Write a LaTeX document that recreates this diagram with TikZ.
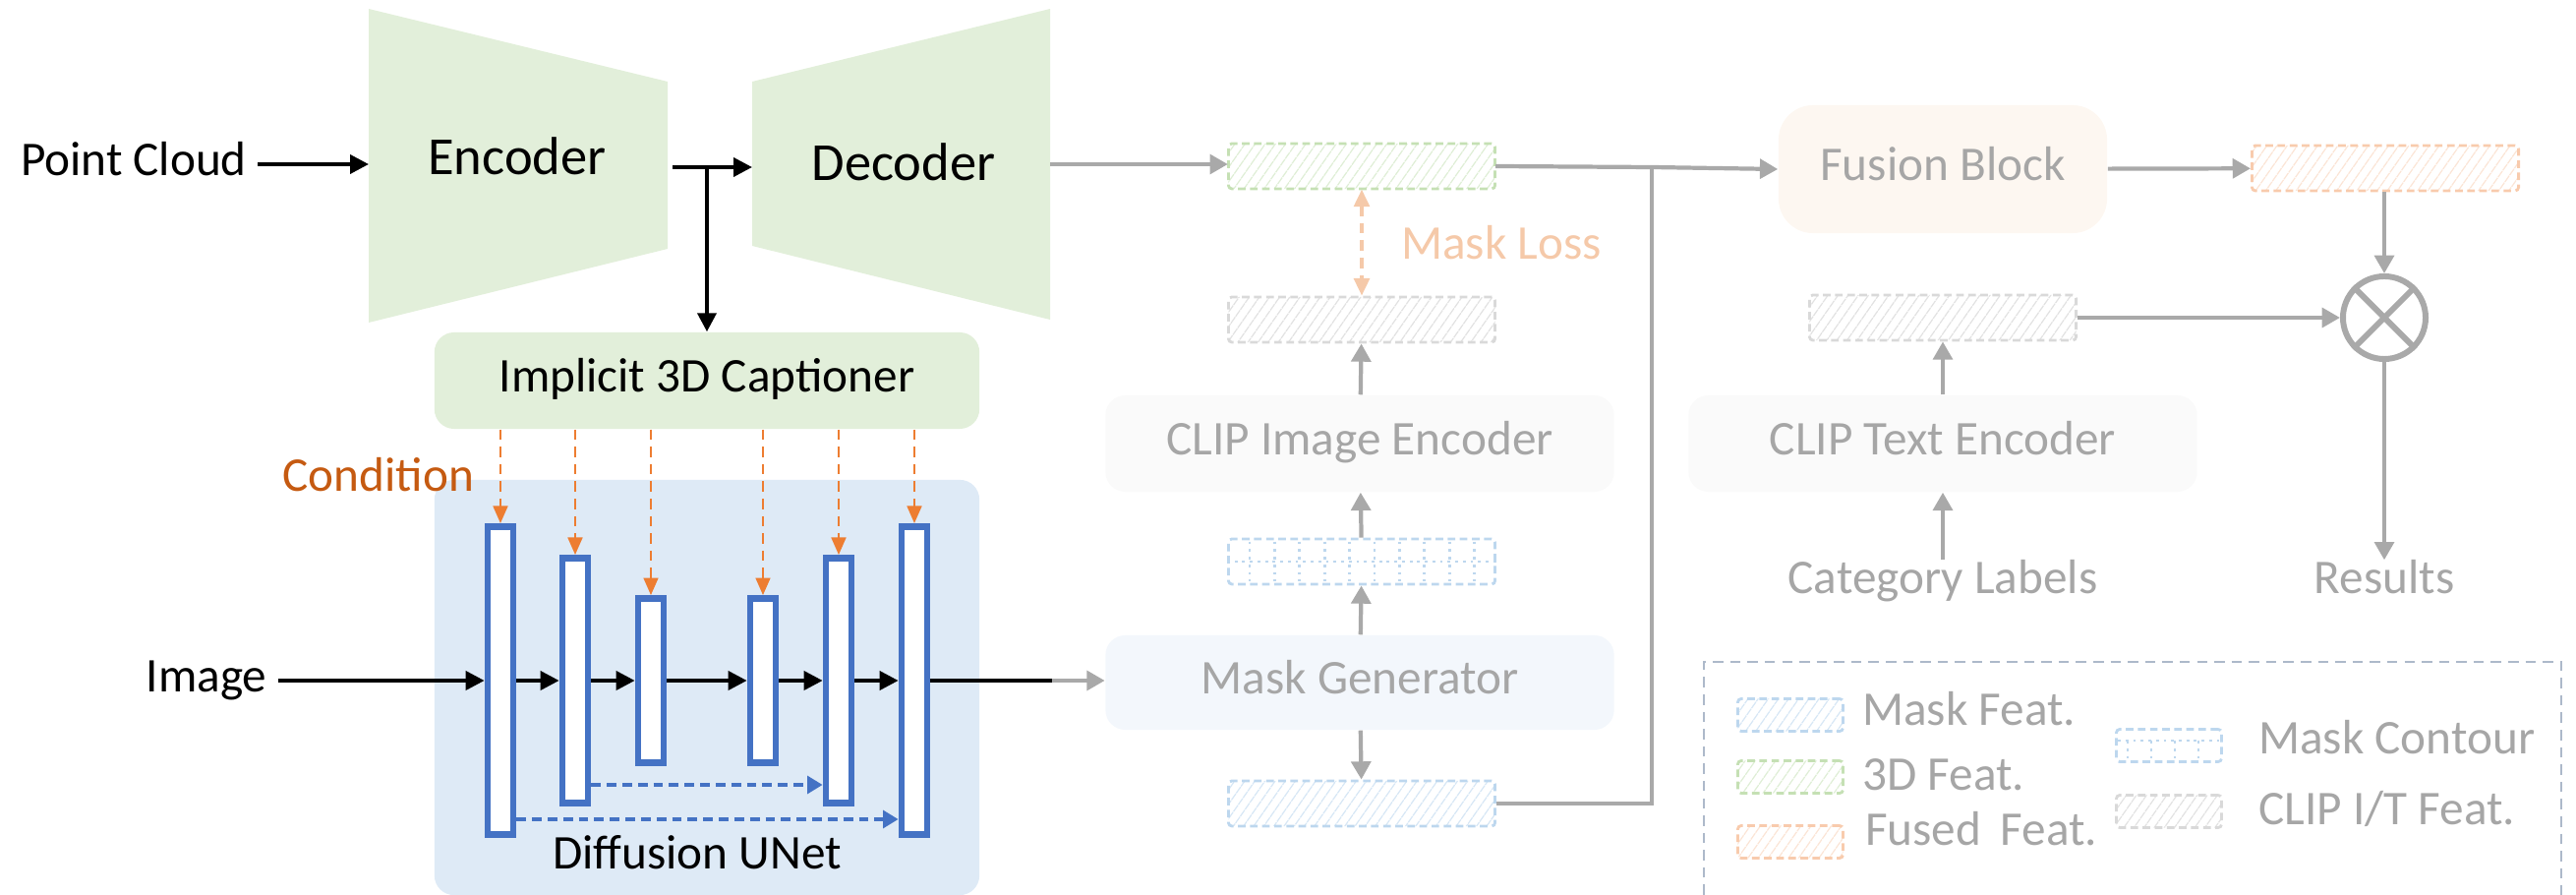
\documentclass[tikz,border=0pt]{standalone}
\usepackage{fontspec}
\setmainfont{Carlito}
\usetikzlibrary{arrows.meta,patterns.meta,calc}

\definecolor{encgreen}{HTML}{E2EFDA}
\definecolor{unetbg}{HTML}{DEEAF6}
\definecolor{barblue}{HTML}{4472C4}
\definecolor{condline}{HTML}{ED7D31}
\definecolor{condtext}{HTML}{C55A11}
\definecolor{arrgray}{HTML}{A9A9A9}
\definecolor{fadegray}{HTML}{A6A6A6}
\definecolor{lossorange}{HTML}{F5C9A9}
\definecolor{clipfill}{HTML}{FAFAFA}
\definecolor{maskfill}{HTML}{F3F7FC}
\definecolor{fusefill}{HTML}{FDF7F1}
\definecolor{maskblue}{HTML}{BDD7EE}
\definecolor{greenline}{HTML}{C5E0B4}
\definecolor{fuseline}{HTML}{F8CBAD}
\definecolor{clipline}{HTML}{D9D9D9}
\definecolor{legline}{HTML}{ADB9CA}

\tikzset{
  lbl/.style={font=\fontsize{14}{17}\selectfont, inner sep=3pt, text height=0.65em, text depth=0pt},
  big/.style={font=\fontsize{15.5}{18}\selectfont},
  faded/.style={text=fadegray},
  blockbox/.style={lbl, rounded corners=0.2cm, inner sep=0pt},
  arr/.style={line width=1.1pt, -{Triangle[length=5.4pt,width=5.4pt]}},
  garr/.style={draw=arrgray, line width=1.2pt, -{Triangle[length=5.2pt,width=5.6pt]}},
  gline/.style={draw=arrgray, line width=1.2pt},
  condarr/.style={draw=condline, line width=0.7pt, dash pattern=on 3pt off 2pt, -{Triangle[length=5pt,width=4.2pt]}},
  lossarr/.style={draw=lossorange, line width=1pt, dash pattern=on 3pt off 2pt,
    {Triangle[length=5pt,width=4.5pt]}-{Triangle[length=5pt,width=4.5pt]}},
  skiparr/.style={draw=barblue, line width=1.2pt, dash pattern=on 2.8pt off 1.7pt, -{Triangle[length=4.4pt,width=5pt]}},
  unetbar/.style={draw=barblue, fill=white, line width=1.9pt, minimum width=0.26cm, inner sep=0pt},
  feat/.style={line width=0.8pt, dash pattern=on 2.2pt off 1.3pt, rounded corners=1pt, inner sep=0pt,
    minimum width=2.71cm, minimum height=0.46cm},
  hatch/.style={pattern={Lines[angle=55,distance=2.4pt,line width=0.35pt]}, pattern color=#1},
  featmask/.style={feat, draw=maskblue, hatch=maskblue!60},
  featgreen/.style={feat, draw=greenline, hatch=greenline!55},
  featfuse/.style={feat, draw=fuseline, hatch=fuseline!50},
  featclip/.style={feat, draw=clipline, hatch=clipline!75},
  featcontour/.style={feat, draw=maskblue},
  dotline/.style={draw=maskblue, line width=0.8pt, dash pattern=on 0.8pt off 1.4pt},
  swatch/.style={minimum width=1.07cm, minimum height=0.33cm},
}

\begin{document}
\begin{tikzpicture}[x=0.01cm,y=-0.01cm]
\useasboundingbox (0,0) rectangle (2620,910);

% point cloud branch
\fill[encgreen] (375,9) -- (679,83) -- (679,253) -- (375,328) -- cycle;
\fill[encgreen] (765,83) -- (1068,9) -- (1068,325) -- (765,250) -- cycle;
\node[lbl] (pc) at (136,167) {Point Cloud};
\node[lbl,big] (enc) at (526,166) {Encoder};
\node[lbl,big] (dec) at (919,172) {Decoder};
\coordinate (encL) at (375,167);
\coordinate (encR) at (684,170);
\coordinate (split) at (719,170);
\coordinate (decL) at (765,170);
\coordinate (decR) at (1068,167);
\draw[arr] (pc) -- (encL);
\draw[arr] (encR) -- (decL);

\node[blockbox, fill=encgreen, minimum width=5.54cm, minimum height=0.98cm] (cap) at (719,387) {Implicit 3D Captioner};
\draw[arr] (split) -- (cap);

% diffusion unet
\node[fill=unetbg, rounded corners=0.2cm, minimum width=5.54cm, minimum height=4.22cm, inner sep=0pt] (unet) at (719,699) {};
\node[lbl, text=condtext] (cond) at (385,488) {Condition};
\foreach \n/\x/\h in {1/509/3.13,2/585/2.49,3/662/1.67,4/776/1.67,5/853/2.49,6/930/3.13}
  \node[unetbar, minimum height=\h cm] (b\n) at (\x,692) {};
\foreach \n in {1,...,6}
  \draw[condarr] (cap.south -| b\n) -- (b\n.north);

\node[lbl] (img) at (210,692) {Image};
\draw[arr] (img) -- (b1);
\foreach \a/\b in {1/2,2/3,3/4,4/5,5/6}
  \draw[arr] (b\a) -- (b\b);
\coordinate (skipA) at (0,798);
\coordinate (skipB) at (0,833);
\draw[skiparr] (b2.east |- skipA) -- (b5.west |- skipA);
\draw[skiparr] (b1.east |- skipB) -- (b6.west |- skipB);
\node[lbl] (unetlbl) at (709,872) {Diffusion UNet};

% mask branch
\node[blockbox, faded, fill=maskfill, minimum width=5.17cm, minimum height=0.96cm] (mg) at (1383,694) {Mask Generator};
\node[blockbox, faded, fill=clipfill, minimum width=5.17cm, minimum height=0.98cm] (cie) at (1383,451) {CLIP Image Encoder};
\coordinate (outmid) at (1070,692);
\draw[line width=1.1pt] (b6.east) -- (outmid);
\draw[garr] (outmid) -- (mg.west |- outmid);

\node[featgreen] (f3d) at (1385,169) {};
\node[featclip] (fci) at (1385,325) {};
\node[featcontour] (fmc) at (1385,571) {};
\foreach \i in {1,...,10}
  \draw[dotline] ($(fmc.north west)+({23+(\i-1)*25.4},4)$) -- ($(fmc.south west)+({23+(\i-1)*25.4},-4)$);
\draw[dotline] (fmc.west) -- (fmc.east);
\node[featmask] (fmf) at (1385,817) {};

\draw[garr] (decR) -- (f3d.west |- decR);
\draw[garr] (mg) -- (fmc);
\draw[garr] (fmc) -- (cie);
\draw[garr] (cie) -- (fci);
\draw[garr] (mg) -- (fmf);
\draw[lossarr] (f3d) -- (fci);
\node[lbl, text=lossorange] (loss) at (1527,252) {Mask Loss};

% fusion and text branch
\node[blockbox, faded, fill=fusefill, rounded corners=0.35cm, minimum width=3.34cm, minimum height=1.30cm] (fb) at (1976,172) {Fusion Block};
\coordinate (join) at (1680,170);
\draw[garr] (f3d.east) -- (join) -- (fb.west);
\draw[gline] (fmf.east) -| (join);

\node[featfuse] (ffu) at (2426,171) {};
\draw[garr] (fb) -- (ffu);
\node[draw=arrgray, line width=1.7pt, circle, minimum size=0.84cm, inner sep=0pt] (ot) at (2425,323) {};
\draw[arrgray, line width=1.7pt] (ot.north west) -- (ot.south east) (ot.north east) -- (ot.south west);
\draw[garr] (ffu.south -| ot) -- (ot);

\node[featclip] (fct) at (1976,323) {};
\node[blockbox, faded, fill=clipfill, minimum width=5.17cm, minimum height=0.98cm] (cte) at (1976,451) {CLIP Text Encoder};
\node[lbl, faded] (cl) at (1976,592) {Category Labels};
\node[lbl, faded] (res) at (2425,592) {Results};
\draw[garr] (fct) -- (ot);
\draw[garr] (cte) -- (fct);
\draw[garr] (cl) -- (cte);
\draw[garr] (ot) -- (res);

% legend
\draw[legline, line width=0.8pt, dash pattern=on 3pt off 2pt] (1733,910) -- (1733,673) -- (2605,673) -- (2605,910);
\node[featmask, swatch] (lgmf) at (1821,727) {};
\node[featgreen, swatch] (lg3d) at (1821,790) {};
\node[featfuse, swatch] (lgfu) at (1821,856) {};
\node[featcontour, swatch] (lgmc) at (2206,758) {};
\foreach \i in {1,...,4}
  \draw[dotline] ($(lgmc.north west)+({13+(\i-1)*24},13)$) -- ($(lgmc.south west)+({13+(\i-1)*24},-3)$);
\draw[dotline] ($(lgmc.north west)+(3,13)$) -- ($(lgmc.north east)+(-3,13)$);
\node[featclip, swatch] (lgcl) at (2206,825) {};
\node[lbl, faded, anchor=west] (lgmft) at (1883,726) {Mask Feat.};
\node[lbl, faded, anchor=west] (lg3dt) at (1883,792) {3D Feat.};
\node[lbl, faded, anchor=west] (lgfut) at (1886,848) {Fused\, Feat.};
\node[lbl, faded, anchor=west] (lgmct) at (2286,755) {Mask Contour};
\node[lbl, faded, anchor=west] (lgclt) at (2286,827) {CLIP I/T Feat.};
\end{tikzpicture}
\end{document}
